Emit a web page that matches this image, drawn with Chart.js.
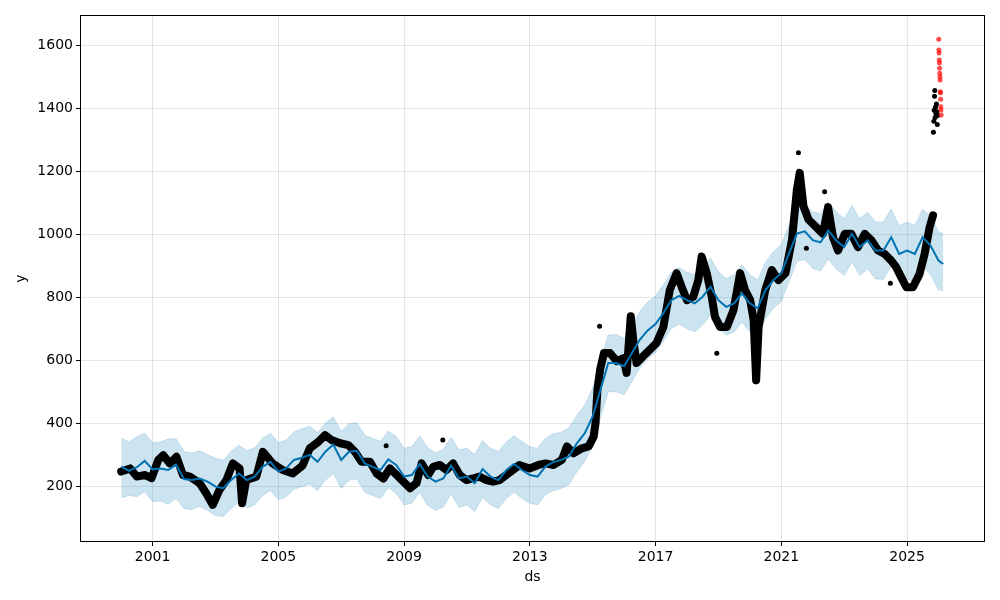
<!DOCTYPE html>
<html>
<head>
<meta charset="utf-8">
<script src="https://cdn.jsdelivr.net/npm/chart.js@4.4.0/dist/chart.umd.min.js"></script>
<style>
  html, body { margin: 0; padding: 0; background: #fff; }
  #wrap { width: 1000px; height: 600px; }
</style>
</head>
<body>
<div id="wrap"><canvas id="grafico" width="1000" height="600"></canvas></div>
<script>
// previsão (quarterly) - yhat e intervalo
const fcDates = [
  '2000-01-01','2000-04-01','2000-07-01','2000-10-01','2001-01-01','2001-04-01','2001-07-01','2001-10-01',
  '2002-01-01','2002-04-01','2002-07-01','2002-10-01','2003-01-01','2003-04-01','2003-07-01','2003-10-01',
  '2004-01-01','2004-04-01','2004-07-01','2004-10-01','2005-01-01','2005-04-01','2005-07-01','2005-10-01',
  '2006-01-01','2006-04-01','2006-07-01','2006-10-01','2007-01-01','2007-04-01','2007-07-01','2007-10-01',
  '2008-01-01','2008-04-01','2008-07-01','2008-10-01','2009-01-01','2009-04-01','2009-07-01','2009-10-01',
  '2010-01-01','2010-04-01','2010-07-01','2010-10-01','2011-01-01','2011-04-01','2011-07-01','2011-10-01',
  '2012-01-01','2012-04-01','2012-07-01','2012-10-01','2013-01-01','2013-04-01','2013-07-01','2013-10-01',
  '2014-01-01','2014-04-01','2014-07-01','2014-10-01','2015-01-01','2015-04-01','2015-07-01','2015-10-01',
  '2016-01-01','2016-04-01','2016-07-01','2016-10-01','2017-01-01','2017-04-01','2017-07-01','2017-10-01',
  '2018-01-01','2018-04-01','2018-07-01','2018-10-01','2019-01-01','2019-04-01','2019-07-01','2019-10-01',
  '2020-01-01','2020-04-01','2020-07-01','2020-10-01','2021-01-01','2021-04-01','2021-07-01','2021-10-01',
  '2022-01-01','2022-04-01','2022-07-01','2022-10-01','2023-01-01','2023-04-01','2023-07-01','2023-10-01',
  '2024-01-01','2024-04-01','2024-07-01','2024-10-01','2025-01-01','2025-04-01','2025-07-01','2025-10-01',
  '2026-01-01','2026-02-25'
];
const yhat = [
  262,248,260,280, 253,256,251,268, 222,219,224,214, 198,193,219,240, 219,230,261,277, 246,256,283,290,
  299,277,309,332, 283,309,312,272, 261,251,285,267, 230,235,270,230, 214,224,265,224, 230,209,254,230,
  219,250,270,251, 235,230,262,276, 283,294,336,368, 421,506,591,591, 581,623,665,695, 715,750,790,805,
  791,781,802,834, 791,770,781,813, 781,765,823,855, 877,940,1003,1010, 982,975,1013,981, 960,1002,960,981,
  949,949,991,938, 949,938,991,965, 917,906
];
const yhatUpper = [
  352,341,357,368, 338,340,350,350, 310,305,312,300, 288,282,310,330, 312,322,352,368, 338,346,372,382,
  390,370,400,420, 375,398,402,362, 352,342,375,358, 320,326,360,322, 305,316,355,315, 320,300,345,320,
  310,340,360,342, 325,320,352,366, 372,385,425,458, 512,596,680,682, 670,712,755,785, 805,840,880,895,
  880,872,892,925, 882,860,872,904, 872,855,912,945, 968,1030,1090,1095, 1072,1065,1103,1072, 1050,1092,1050,1071,
  1040,1040,1081,1028, 1040,1028,1081,1058, 1010,1002
];
const yhatLower = [
  162,170,166,182, 150,152,142,160, 128,125,135,122, 106,103,128,150, 130,140,170,186, 156,165,190,198,
  206,186,218,240, 192,218,222,180, 170,160,195,176, 140,145,180,138, 122,133,175,132, 140,118,164,140,
  128,160,180,160, 145,140,172,185, 192,204,245,278, 330,416,500,500, 490,532,575,604, 625,660,700,715,
  700,690,712,744, 700,680,690,722, 690,675,732,765, 786,850,915,920, 892,884,922,890, 870,912,870,890,
  858,858,900,848, 858,848,900,872, 825,821
];

// observações (pontos pretos)
const obsDates = [
  '2000-01-01','2000-04-15','2000-07-01','2000-10-05','2000-12-20','2001-03-08','2001-05-05','2001-07-20',
  '2001-10-05','2001-12-20','2002-03-10','2002-07-01','2002-09-15','2002-12-01','2003-02-15','2003-05-08',
  '2003-07-22','2003-10-08','2003-11-06','2003-12-24','2004-04-20','2004-07-05','2004-10-25','2005-02-20',
  '2005-06-18','2005-10-08','2006-01-01','2006-04-12','2006-06-28','2006-09-12','2006-12-20','2007-03-25',
  '2007-06-10','2007-08-25','2007-12-01','2008-02-17','2008-05-05','2008-07-20','2008-10-08','2008-12-24',
  '2009-03-10','2009-05-25','2009-07-24','2009-10-08','2009-12-05','2010-02-20','2010-05-08','2010-07-24',
  '2010-10-08','2010-12-24','2011-03-10','2011-05-25','2011-08-15','2011-10-30','2012-01-15','2012-04-01',
  '2012-06-18','2012-09-02','2012-12-28','2013-04-12','2013-07-01','2013-10-05','2014-01-08','2014-03-08',
  '2014-05-22','2014-08-28','2014-11-15','2015-01-12','2015-02-03','2015-02-25','2015-03-28','2015-05-12',
  '2015-07-20','2015-10-08','2015-12-24','2016-01-30','2016-03-18','2016-04-16','2016-05-25','2016-08-10',
  '2016-10-27','2017-01-12','2017-04-01','2017-06-15','2017-09-02','2017-10-30','2018-01-01','2018-03-15',
  '2018-05-12','2018-06-20','2018-08-18','2018-10-15','2018-11-22','2019-01-20','2019-04-10','2019-06-25',
  '2019-09-10','2019-11-06','2020-01-05','2020-02-14','2020-03-14','2020-04-12','2020-06-28','2020-09-12',
  '2020-11-28','2021-02-18','2021-05-05','2021-07-01','2021-08-03','2021-09-16','2021-11-14','2022-02-01',
  '2022-04-30','2022-06-28','2022-08-25','2022-10-22','2023-01-08','2023-03-25','2023-06-10','2023-08-28',
  '2023-11-14','2024-01-30','2024-04-16','2024-07-01','2024-08-28','2024-10-26','2024-12-24','2025-03-10',
  '2025-05-26','2025-07-24','2025-09-20','2025-10-30'
];
const obsValues = [
  246,256,230,235,225,283,298,272, 293,235,230,209,177,140,187,219, 272,256,145,219,230,309,272,251,
  240,265,320,341,362,346,336,330, 309,277,277,240,224,256,235,214, 193,209,272,235,261,267,251,272,
  235,219,224,230,219,214,219,235, 251,267,256,267,272,267,283,326, 304,320,326,357,400,506,570,623,
  623,597,607,560,740,666,591,613, 634,655,705,823,877,834,791,802, 855,930,877,802,738,706,706,760,
  877,823,791,728,536,706,823,887, 855,877,983,1143,1196,1089,1047,1026, 1002,1087,991,949,1002,1002,960,1002,
  981,949,938,917,896,864,832,832, 874,938,1023,1061
];

// pontos isolados
const outlierDates = ['2008-06-06','2010-03-26','2015-03-22','2018-12-13','2021-07-19','2021-10-19','2022-05-19','2024-06-21'];
const outlierValues = [328, 346, 708, 622, 1260, 956, 1136, 845];

// últimos dias (salto)
const jumpDates = ['2025-11-03','2025-11-08','2025-11-12','2025-11-16','2025-11-19','2025-11-23','2025-11-27','2025-12-02','2025-12-08','2025-12-14','2025-12-18','2025-12-22'];
const jumpValues = [1325, 1360, 1395, 1440, 1458, 1372, 1405, 1385, 1415, 1390, 1350, 1378];

// pontos novos (vermelhos)
const redDates = ['2026-01-04','2026-01-06','2026-01-08','2026-01-10','2026-01-12','2026-01-14','2026-01-16','2026-01-18','2026-01-20','2026-01-22','2026-01-24','2026-01-26','2026-01-28','2026-01-30','2026-02-01'];
const redValues = [1621, 1587, 1577, 1555, 1545, 1529, 1513, 1502, 1491, 1454, 1451, 1430, 1406, 1396, 1380];

const xTicks = [2001, 2005, 2009, 2013, 2017, 2021, 2025];
const yTicks = [200, 400, 600, 800, 1000, 1200, 1400, 1600];

function toYear(s) {
  const [y, m, d] = s.split('-').map(Number);
  const start = Date.UTC(y, 0, 1), end = Date.UTC(y + 1, 0, 1);
  return y + (Date.UTC(y, m - 1, d) - start) / (end - start);
}
function pares(datas, valores) {
  return datas.map((d, i) => ({ x: toYear(d), y: valores[i] }));
}

const frame = {
  id: 'frame',
  afterDatasetsDraw(chart) {
    const { ctx, chartArea: a } = chart;
    ctx.save();
    ctx.strokeStyle = '#000';
    ctx.lineWidth = 1;
    ctx.strokeRect(a.left + 0.5, a.top + 0.5, a.right - a.left - 1, a.bottom - a.top - 1);
    ctx.restore();
  }
};

const fonte = { family: 'DejaVu Sans', size: 14 };
const band = 'rgba(0,114,178,0.2)';

const ctx = document.getElementById('grafico').getContext('2d');
const chart = new Chart(ctx, {
  type: 'line',
  data: {
    datasets: [
      { data: pares(fcDates, yhatUpper), borderColor: 'rgba(0,114,178,0.15)', borderWidth: 1,
        backgroundColor: band, fill: '+1', pointRadius: 0, order: 3 },
      { data: pares(fcDates, yhatLower), borderColor: 'rgba(0,114,178,0.15)', borderWidth: 1,
        fill: false, pointRadius: 0, order: 3 },
      { data: pares(fcDates, yhat), borderColor: '#0072B2', borderWidth: 2, fill: false,
        pointRadius: 0, order: 1 },
      { data: pares(obsDates, obsValues), borderColor: '#000', borderWidth: 8, borderJoinStyle: 'round',
        borderCapStyle: 'round', pointRadius: 2.5, pointBackgroundColor: '#000', pointBorderWidth: 0,
        fill: false, order: 2 },
      { data: pares(outlierDates, outlierValues), showLine: false, pointRadius: 2.5,
        pointBackgroundColor: '#000', pointBorderWidth: 0, order: 2 },
      { data: pares(jumpDates, jumpValues), showLine: false, pointRadius: 2.5,
        pointBackgroundColor: '#000', pointBorderWidth: 0, order: 2 },
      { data: pares(redDates, redValues), showLine: false, pointRadius: 2.5,
        pointBackgroundColor: 'rgba(255,0,0,0.7)', pointBorderWidth: 0, order: -1 }
    ]
  },
  options: {
    responsive: false,
    animation: false,
    devicePixelRatio: 1,
    layout: { padding: { left: 0, top: 15, right: 15, bottom: 0 } },
    plugins: { legend: { display: false }, tooltip: { enabled: false } },
    scales: {
      x: {
        type: 'linear', min: 1998.69, max: 2027.48,
        afterBuildTicks: s => { s.ticks = xTicks.map(v => ({ value: v })); },
        afterFit: s => { s.height = 58; },
        grid: { color: 'rgba(128,128,128,0.2)', tickColor: '#000', tickLength: 4 },
        border: { display: false },
        ticks: { color: '#000', font: fonte, padding: 3, maxRotation: 0, callback: v => String(v) },
        title: { display: true, text: 'ds', color: '#000', font: fonte, padding: { top: 0, bottom: 14 } }
      },
      y: {
        min: 22, max: 1698,
        afterBuildTicks: s => { s.ticks = yTicks.map(v => ({ value: v })); },
        afterFit: s => { s.width = 80; },
        grid: { color: 'rgba(128,128,128,0.2)', tickColor: '#000', tickLength: 4 },
        border: { display: false },
        ticks: { color: '#000', font: fonte, padding: 3, callback: v => String(v) },
        title: { display: true, text: 'y', color: '#000', font: fonte, padding: { top: 13, bottom: 0 } }
      }
    }
  },
  plugins: [frame]
});
</script>
</body>
</html>
